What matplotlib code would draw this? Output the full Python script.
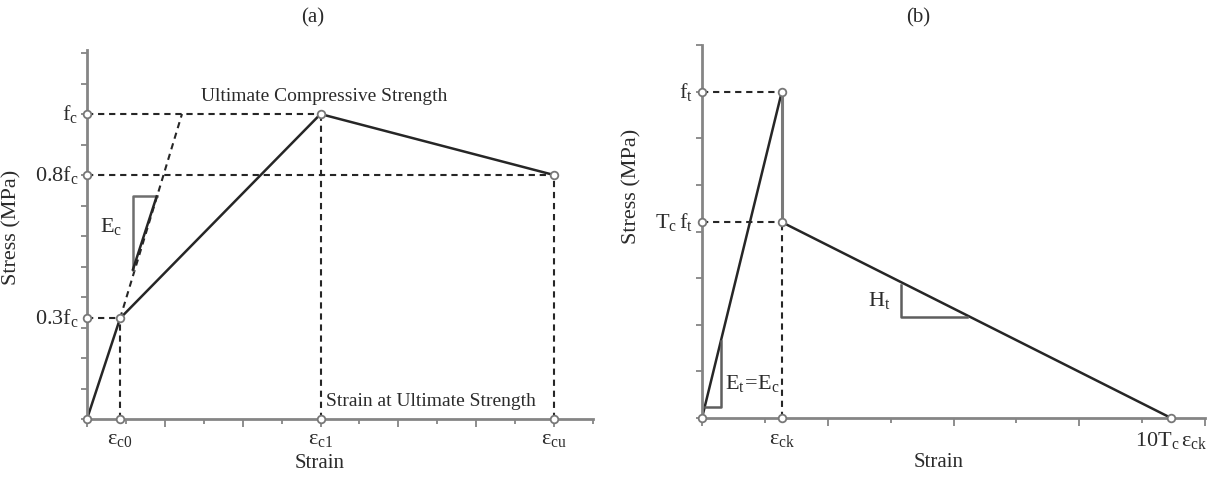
import numpy as np
import matplotlib.pyplot as plt

plt.rcParams['font.family'] = ['Liberation Serif', 'DejaVu Serif']
plt.rcParams['mathtext.fontset'] = 'custom'
plt.rcParams['mathtext.rm'] = 'Liberation Serif'
plt.rcParams['mathtext.it'] = 'Liberation Serif'

# (a) compression
strain_a = [0, 0.85, 6, 12]
stress_a = [0, 0.33, 1.0, 0.8]
tangent_x = [0.85, 2.44]
tangent_y = [0.33, 1.0]
tri_a_x = [1.18, 1.18, 1.79]
tri_a_y = [0.49, 0.73, 0.73]
xlab_a = [r'$\mathrm{\varepsilon_{c0}}$', r'$\mathrm{\varepsilon_{c1}}$', r'$\mathrm{\varepsilon_{cu}}$']
ylab_a = [r'$\mathrm{0.3f_c}$', r'$\mathrm{0.8f_c}$', r'$\mathrm{f_c}$']
ylab_a_pos = [0.33, 0.8, 1.0]

# (b) tension
strain_b = [0, 1.27, 1.27, 7.46]
stress_b = [0, 7.0, 4.2, 0]
tri_b1_x = [0.044, 0.30, 0.30]
tri_b1_y = [0.24, 0.24, 1.65]
tri_b2_x = [3.16, 3.16, 4.22]
tri_b2_y = [2.86, 2.17, 2.17]
xlab_b = [r'$\mathrm{\varepsilon_{ck}}$', r'$\mathrm{10T_c\,\varepsilon_{ck}}$']
ylab_b = [r'$\mathrm{T_c\,f_t}$', r'$\mathrm{f_t}$']

TXT = '#2b2b2b'
AX = '#858585'
LN = '#262626'
FS = 14
FT = 16

fig = plt.figure(figsize=(12.08, 4.78), dpi=100)
axa = fig.add_axes([87/1208, 1-419/478, 506/1208, 369/478])
axb = fig.add_axes([702/1208, 1-418/478, 503/1208, 373/478])

dash = dict(color=LN, lw=1.5, dashes=(3, 2.3))
mk = dict(marker='o', ms=5.5, mfc='white', mec='#777777', mew=1.3, ls='none', zorder=5, clip_on=False)


def style(ax, xmax, ymax):
    ax.set_xlim(0, xmax)
    ax.set_ylim(0, ymax)
    for s in ['top', 'right']:
        ax.spines[s].set_visible(False)
    for s in ['left', 'bottom']:
        ax.spines[s].set_color(AX)
        ax.spines[s].set_linewidth(2)
    ax.set_xticks(np.arange(0, xmax + 0.1, 2))
    ax.set_xticks(np.arange(0, xmax + 0.1, 1), minor=True)
    ax.tick_params(which='major', axis='x', length=6, width=1.3, color=AX, labelbottom=False)
    ax.tick_params(which='minor', axis='x', length=3.5, width=1.3, color=AX)
    ax.tick_params(which='major', axis='y', length=4, width=1.3, color=AX, labelleft=False)
    ax.tick_params(which='minor', axis='y', length=0)
    ax.set_xlabel('Strain', fontsize=FS + 1, color=TXT)
    ax.set_ylabel('Stress (MPa)', fontsize=FS + 2, color=TXT)


# ---- panel (a)
ax = axa
style(ax, 13, 1.21)
ax.set_yticks(np.arange(0, 1.21, 0.1))
ax.plot([0, strain_a[1]], [stress_a[1]] * 2, **dash)
ax.plot([0, strain_a[2]], [stress_a[2]] * 2, **dash)
ax.plot([0, strain_a[3]], [stress_a[3]] * 2, **dash)
for i in range(1, 4):
    ax.plot([strain_a[i]] * 2, [0, stress_a[i]], **dash)
ax.plot(tangent_x, tangent_y, **dash)
ax.plot(strain_a, stress_a, color=LN, lw=1.8)
ax.plot(tri_a_x[:2] + [tri_a_x[2]], tri_a_y, color='#6e6e6e', lw=1.8)
ax.plot([tri_a_x[0], tri_a_x[2]], [tri_a_y[0], tri_a_y[2]], color=LN, lw=1.8)
ax.text(0.62, 0.63, r'$\mathrm{E_c}$', fontsize=FT, color=TXT, ha='center', va='center')
ax.plot([0] * 4 + strain_a[1:], [0] + ylab_a_pos + [0] * 3, **mk)
ax.plot(strain_a[1:], stress_a[1:], **mk)
for x, s in zip(strain_a[1:], xlab_a):
    ax.text(x, -0.035, s, fontsize=FT, color=TXT, ha='center', va='top')
for y, s in zip(ylab_a_pos, ylab_a):
    ax.text(-0.22, y, s, fontsize=FT, color=TXT, ha='right', va='center')
ax.text(6.1, 1.03, 'Ultimate Compressive Strength', fontsize=FS, color=TXT, ha='center', va='bottom')
ax.text(6.15, 0.03, 'Strain at Ultimate Strength', fontsize=FS, color=TXT, ha='left', va='bottom')
ax.xaxis.set_label_coords(0.46, -0.095)
ax.yaxis.set_label_coords(-0.13, 0.52)
fig.text(313/1208, 1-18/478, '(a)', fontsize=FS + 1, color=TXT, ha='center', va='center')

# ---- panel (b)
ax = axb
style(ax, 8, 8)
ax.set_yticks(np.arange(0, 8.1, 1))
ax.plot([0, strain_b[1]], [stress_b[1]] * 2, **dash)
ax.plot([0, strain_b[2]], [stress_b[2]] * 2, **dash)
ax.plot([strain_b[2]] * 2, [0, stress_b[2]], **dash)
ax.plot(strain_b[:2], stress_b[:2], color=LN, lw=1.8)
ax.plot(strain_b[1:3], stress_b[1:3], color='#7a7a7a', lw=2.2)
ax.plot(strain_b[2:], stress_b[2:], color=LN, lw=1.8)
ax.plot(tri_b1_x, tri_b1_y, color='#5e5e5e', lw=1.8)
ax.plot(tri_b2_x, tri_b2_y, color='#5e5e5e', lw=1.8)
ax.text(0.36, 0.75, r'$\mathrm{E_t\!=\!E_c}$', fontsize=FT, color=TXT, ha='left', va='center')
ax.text(3.0, 2.52, r'$\mathrm{H_t}$', fontsize=FT, color=TXT, ha='right', va='center')
ax.plot([0, 0, 0, strain_b[1], strain_b[3]], [0, stress_b[1], stress_b[2], 0, 0], **mk)
ax.plot(strain_b[1:3], stress_b[1:3], **mk)
for x, s in zip([strain_b[1], strain_b[3]], xlab_b):
    ax.text(x, -0.25, s, fontsize=FT, color=TXT, ha='center', va='top')
for y, s in zip([stress_b[2], stress_b[1]], ylab_b):
    ax.text(-0.15, y, s, fontsize=FT, color=TXT, ha='right', va='center')
ax.xaxis.set_label_coords(0.47, -0.095)
ax.yaxis.set_label_coords(-0.12, 0.62)
fig.text(918/1208, 1-18/478, '(b)', fontsize=FS + 1, color=TXT, ha='center', va='center')

fig.savefig('out.png', dpi=100)
